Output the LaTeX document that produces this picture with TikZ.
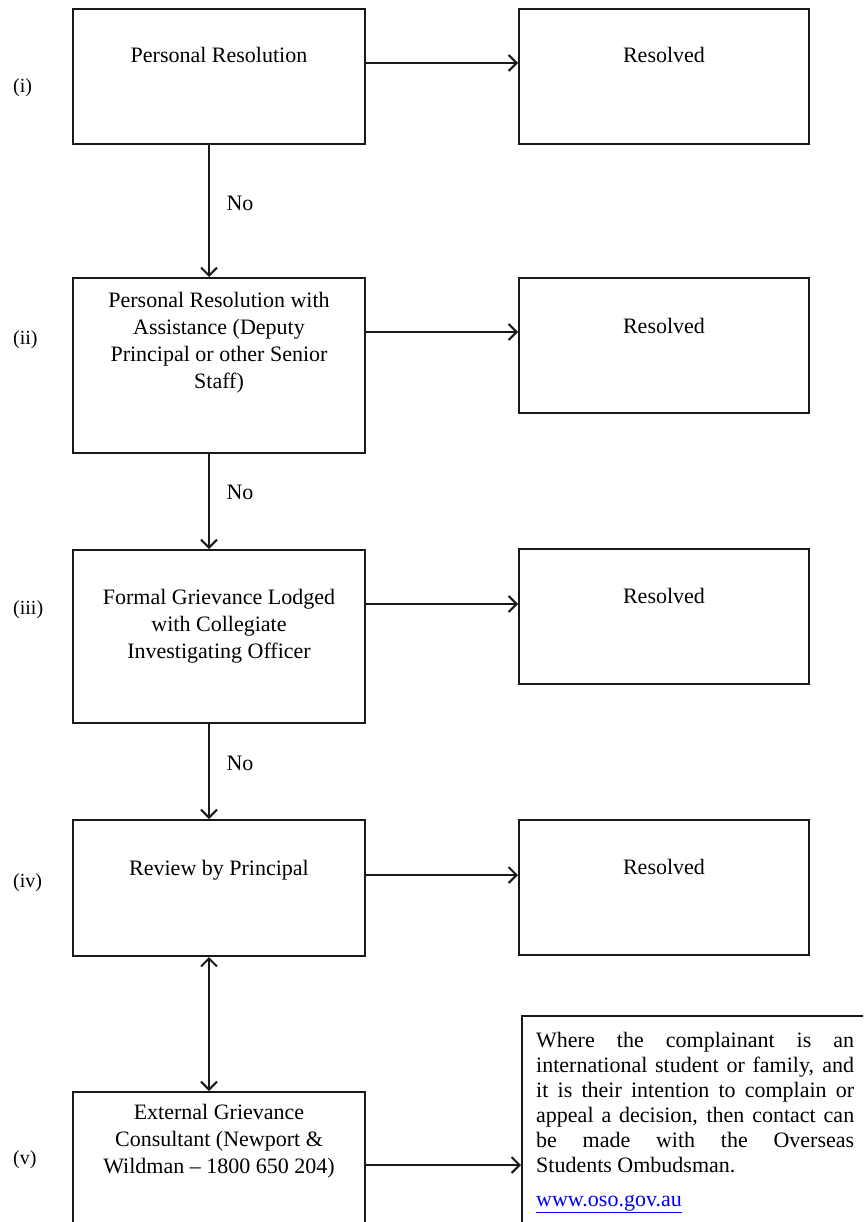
\documentclass[tikz,border=0pt]{standalone}
\usepackage{fontspec}
\setmainfont{Liberation Serif}
\usetikzlibrary{arrows.meta}
\definecolor{urlblue}{RGB}{0,0,238}
\definecolor{ink}{RGB}{25,25,25}
\begin{document}
\begin{tikzpicture}[x=1pt,y=-1pt,
  lbox/.style={draw=ink, line width=2pt, inner sep=0pt, minimum width=292pt, minimum height=#1},
  rbox/.style={draw=ink, line width=2pt, inner sep=0pt, minimum width=290pt, minimum height=#1},
  boxtext/.style={anchor=north, align=center, inner sep=0pt, font=\fontsize{22}{27}\selectfont},
  numlabel/.style={anchor=west, inner sep=0pt, font=\fontsize{20}{24}\selectfont},
  nolabel/.style={inner sep=0pt, font=\fontsize{22}{27}\selectfont},
  notetext/.style={anchor=north west, text width=318pt, align=justify, inner sep=0pt, font=\fontsize{22}{25}\selectfont},
  barb/.tip={Straight Barb[length=8pt,width=16pt,line width=2pt]},
  arr/.style={draw=ink, line width=2pt, -barb},
  darr/.style={draw=ink, line width=2pt, barb-barb}]
\useasboundingbox (0,0) rectangle (863,1222);
\fill[white] (0,0) rectangle (863,1222);
\clip (0,0) rectangle (863,1222);

% left column boxes
\node[lbox=135pt] (b1) at (219,76.5) {};
\node[lbox=175pt] (b2) at (219,365.5) {};
\node[lbox=173pt] (b3) at (219,636.5) {};
\node[lbox=136pt] (b4) at (219,888) {};
\node[lbox=150pt] (b5) at (219,1167) {};

% right column boxes
\node[rbox=135pt] (r1) at (664,76.5) {};
\node[rbox=135pt] (r2) at (664,345.5) {};
\node[rbox=135pt] (r3) at (664,616.5) {};
\node[rbox=135pt] (r4) at (664,887.5) {};
\node[draw=ink, line width=2pt, inner sep=0pt, minimum width=358pt, minimum height=230pt] (nb) at (701,1131) {};

% box texts
\node[boxtext] (t1) at ([yshift=-39pt]b1.north) {Personal Resolution};
\node[boxtext] (t2) at ([yshift=-15pt]b2.north) {Personal Resolution with\\Assistance (Deputy\\Principal or other Senior\\Staff)};
\node[boxtext] (t3) at ([yshift=-40pt]b3.north) {Formal Grievance Lodged\\with Collegiate\\Investigating Officer};
\node[boxtext] (t4) at ([yshift=-41pt]b4.north) {Review by Principal};
\node[boxtext] (t5) at ([yshift=-13pt]b5.north) {External Grievance\\Consultant (Newport \&\\Wildman – 1800 650 204)};

\node[boxtext] (s1) at ([yshift=-39pt]r1.north) {Resolved};
\node[boxtext] (s2) at ([yshift=-41pt]r2.north) {Resolved};
\node[boxtext] (s3) at ([yshift=-40pt]r3.north) {Resolved};
\node[boxtext] (s4) at ([yshift=-40pt]r4.north) {Resolved};

\node[notetext] (nt) at ([xshift=15pt,yshift=-17pt]nb.north west) {Where the complainant is an\linebreak international student or family, and\linebreak it is their intention to complain or\linebreak appeal a decision, then contact can\linebreak be made with the Overseas\linebreak Students Ombudsman.\par\vspace{9pt}\noindent\textcolor{urlblue}{\underline{www.oso.gov.au}}};

% step labels
\node[numlabel] (l1) at (13,88) {(i)};
\node[numlabel] (l2) at (13,340) {(ii)};
\node[numlabel] (l3) at (13,610) {(iii)};
\node[numlabel] (l4) at (13,883) {(iv)};
\node[numlabel] (l5) at (13,1160) {(v)};

% No labels
\node[nolabel] (n1) at (240,203) {No};
\node[nolabel] (n2) at (240,492) {No};
\node[nolabel] (n3) at (240,763) {No};

% horizontal arrows
\draw[arr] ([yshift=-55pt]b1.north east) -- ([yshift=-55pt]r1.north west);
\draw[arr] ([yshift=-55pt]b2.north east) -- ([yshift=-55pt]r2.north west);
\draw[arr] ([yshift=-55pt]b3.north east) -- ([yshift=-56pt]r3.north west);
\draw[arr] ([yshift=-56pt]b4.north east) -- ([yshift=-56pt]r4.north west);
\draw[arr] ([yshift=-74pt]b5.north east) -- ([yshift=-150pt]nb.north west);

% vertical arrows
\draw[arr] ([xshift=-10pt]b1.south) -- ([xshift=-10pt]b2.north);
\draw[arr] ([xshift=-10pt]b2.south) -- ([xshift=-10pt]b3.north);
\draw[arr] ([xshift=-10pt]b3.south) -- ([xshift=-10pt]b4.north);
\draw[darr] ([xshift=-10pt]b4.south) -- ([xshift=-10pt]b5.north);
\end{tikzpicture}
\end{document}
